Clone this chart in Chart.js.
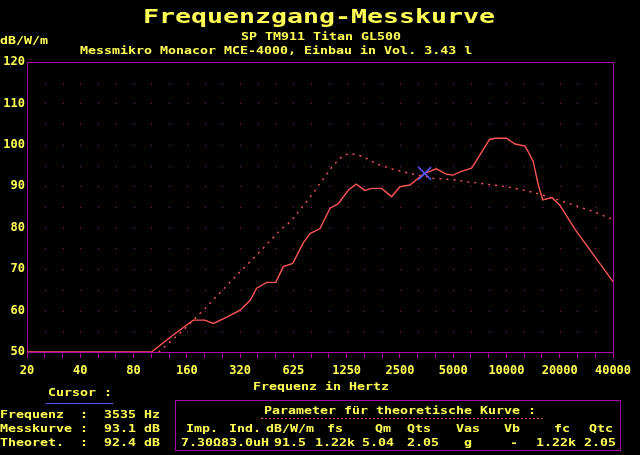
<!DOCTYPE html>
<html>
<head>
<meta charset="utf-8">
<script src="https://cdn.jsdelivr.net/npm/chart.js@4/dist/chart.umd.min.js"></script>
<style>
    body { margin: 0; background: #000; }
    #wrap { position: relative; width: 640px; height: 455px; background: #000; overflow: hidden; }
    #kurve { position: absolute; left: 0; top: 0; }
    .t {
        position: absolute; white-space: pre; color: #ffff55;
        font: bold 10.5px/14px "DejaVu Sans Mono", monospace;
        transform-origin: 0 50%; transform: scaleX(1.266);
    }
    #titel { font-size: 20px; line-height: 24px; transform: scaleX(1.329); }
    .linie { position: absolute; height: 1px; }
    #box { position: absolute; left: 175px; top: 400px; width: 444px; height: 49px; border: 1px solid #aa00aa; }
</style>
</head>
<body>
<div id="wrap">
    <canvas id="kurve" width="640" height="455"></canvas>

    <div class="t" id="titel" style="left:143px;top:4px">Frequenzgang-Messkurve</div>
    <div class="t" style="left:0px;top:33px">dB/W/m</div>
    <div class="t" style="left:241px;top:29px">SP TM911 Titan GL500</div>
    <div class="t" style="left:80px;top:43px">Messmikro Monacor MCE-4000, Einbau in Vol. 3.43 l</div>
    <div class="t" style="left:253px;top:379px">Frequenz in Hertz</div>

    <!-- Cursor -->
    <div class="t" style="left:48px;top:385px">Cursor :</div>
    <div class="linie" style="left:46px;top:403px;width:67px;background:#5555ff"></div>
    <div class="t" style="left:0px;top:407px">Frequenz  :  3535 Hz</div>
    <div class="t" style="left:0px;top:421px">Messkurve :  93.1 dB</div>
    <div class="t" style="left:0px;top:435px">Theoret.  :  92.4 dB</div>

    <!-- Parameter -->
    <div id="box"></div>
    <div class="t" style="left:264px;top:403px">Parameter für theoretische Kurve :</div>
    <div class="linie" style="left:261px;top:418px;width:281px;background:repeating-linear-gradient(90deg,#ff5555 0 2px,transparent 2px 4px)"></div>
    <div class="t" style="left:186px;top:421px">Imp.</div>
    <div class="t" style="left:229px;top:421px">Ind.</div>
    <div class="t" style="left:266px;top:421px">dB/W/m</div>
    <div class="t" style="left:327px;top:421px">fs</div>
    <div class="t" style="left:375px;top:421px">Qm</div>
    <div class="t" style="left:407px;top:421px">Qts</div>
    <div class="t" style="left:456px;top:421px">Vas</div>
    <div class="t" style="left:504px;top:421px">Vb</div>
    <div class="t" style="left:554px;top:421px">fc</div>
    <div class="t" style="left:589px;top:421px">Qtc</div>
    <div class="t" style="left:181px;top:435px">7.30Ω83.0uH</div>
    <div class="t" style="left:274px;top:435px">91.5</div>
    <div class="t" style="left:315px;top:435px">1.22k</div>
    <div class="t" style="left:362px;top:435px">5.04</div>
    <div class="t" style="left:407px;top:435px">2.05</div>
    <div class="t" style="left:464px;top:435px">g</div>
    <div class="t" style="left:510px;top:435px">-</div>
    <div class="t" style="left:536px;top:435px">1.22k</div>
    <div class="t" style="left:584px;top:435px">2.05</div>
</div>

<script>
// Messkurve: Frequenz (Hz) und Pegel (dB/W/m)
const messFreq = [20, 101, 134, 174, 202, 226, 269, 320, 365, 397,
    453, 509, 562, 635, 729, 795, 905, 1032, 1148, 1310,
    1450, 1622, 1770, 2020, 2300, 2560, 2920, 3260, 3535, 4100,
    4710, 5120, 5600, 6510, 7240, 8220, 8840, 10240, 11450, 13030,
    13600, 14500, 15500, 16430, 18480, 20480, 25000, 40960];
const messPegel = [50, 50, 54.1, 57.7, 57.7, 56.9, 58.4, 60.1, 62.5, 65.4,
    66.8, 66.8, 70.6, 71.4, 76.4, 78.6, 79.8, 84.7, 85.8, 89.1,
    90.5, 89.0, 89.5, 89.5, 87.5, 89.9, 90.3, 92.0, 93.1, 94.2,
    92.9, 92.7, 93.5, 94.4, 97.5, 101.3, 101.6, 101.6, 100.2, 99.7,
    98.3, 96.0, 90.3, 86.7, 87.3, 85.5, 79.6, 67.0];

// theoretische Kurve
const theoFreq = [111, 153, 207, 320, 414, 538, 614, 697, 828, 905,
    1076, 1225, 1350, 1555, 1890, 2350, 2920, 3535, 3960, 5120,
    6090, 7600, 10240, 12770, 15200, 18840, 24500, 31700, 40960];
const theoPegel = [50, 55.3, 60.9, 69.4, 74.2, 79.4, 81.4, 84.3, 88.3, 90.7,
    95.1, 97.5, 97.9, 97.3, 95.4, 94.1, 93.1, 92.4, 91.9, 91.6,
    91.1, 90.6, 89.9, 89.1, 88.3, 87.1, 85.5, 83.9, 82.0];

// Cursor
const cursorFreq = [3535];
const cursorPegel = [93.1];

// Achsen
const xTickLabels = ['20', '40', '80', '160', '320', '625', '1250', '2500', '5000', '10000', '20000', '40000'];
const fStart = 20;
const fEnd = 40960;
const yMin = 50;
const yMax = 120;
const yStep = 10;

const gelb = '#ffff55';
const magenta = '#aa00aa';
const rot = '#ff5555';
const blau = '#5555ff';

const punkte = (fs, ps) => fs.map((f, i) => ({ x: f, y: ps[i] }));

// Terz-Raster (1/3 Oktave)
const terzen = [];
for (let k = 0; k <= 33; k++) terzen.push(fStart * Math.pow(2, k / 3));

// Punktraster + Rahmen
const rahmenPlugin = {
    id: 'rahmen',
    beforeDatasetsDraw(chart) {
        const { ctx, chartArea: a, scales } = chart;
        ctx.save();
        ctx.fillStyle = magenta;
        for (let k = 1; k < terzen.length - 1; k++) {
            const px = Math.round(scales.x.getPixelForValue(terzen[k]));
            for (let db = yMin + 5; db < yMax; db += 5) {
                const py = Math.round(scales.y.getPixelForValue(db));
                ctx.fillRect(px, py, 1, 1);
            }
        }
        ctx.strokeStyle = magenta;
        ctx.lineWidth = 1;
        ctx.strokeRect(a.left + 0.5, a.top + 0.5, a.right - a.left, a.bottom - a.top);
        ctx.restore();
    }
};

new Chart(document.getElementById('kurve').getContext('2d'), {
    type: 'scatter',
    data: {
        datasets: [
            {
                label: 'Cursor',
                data: punkte(cursorFreq, cursorPegel),
                pointStyle: 'crossRot',
                pointRadius: 9,
                borderColor: blau,
                borderWidth: 1.6,
                showLine: false
            },
            {
                label: 'Messkurve',
                data: punkte(messFreq, messPegel),
                showLine: true,
                borderColor: rot,
                borderWidth: 1.4,
                pointRadius: 0,
                tension: 0
            },
            {
                label: 'Theoretisch',
                data: punkte(theoFreq, theoPegel),
                showLine: true,
                borderColor: rot,
                borderWidth: 1.4,
                borderDash: [2, 5],
                pointRadius: 0,
                tension: 0
            }
        ]
    },
    options: {
        responsive: false,
        animation: false,
        layout: { padding: { left: 0, top: 62, right: 27, bottom: 73 } },
        plugins: { legend: { display: false }, tooltip: { enabled: false } },
        scales: {
            x: {
                type: 'logarithmic',
                min: fStart,
                max: fEnd,
                afterBuildTicks: (s) => { s.ticks = terzen.map(v => ({ value: v })); },
                afterFit: (s) => { s.height = 30; },
                grid: { display: true, drawOnChartArea: false, drawTicks: true, tickLength: 6, color: magenta },
                border: { display: false },
                ticks: {
                    autoSkip: false,
                    maxRotation: 0,
                    padding: 6,
                    color: gelb,
                    font: { family: 'DejaVu Sans Mono', size: 12, weight: 'bold' },
                    callback: (v, i) => (i % 3 === 0 ? xTickLabels[i / 3] : '')
                }
            },
            y: {
                min: yMin,
                max: yMax,
                afterFit: (s) => { s.width = 27; },
                grid: { display: false, drawTicks: false },
                border: { display: false },
                ticks: {
                    stepSize: yStep,
                    padding: 2,
                    color: gelb,
                    font: { family: 'DejaVu Sans Mono', size: 12, weight: 'bold' }
                }
            }
        }
    },
    plugins: [rahmenPlugin]
});
</script>
</body>
</html>
